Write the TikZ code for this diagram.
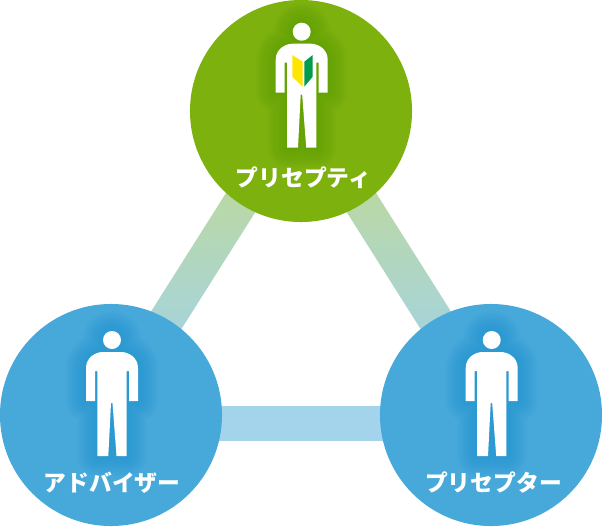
\documentclass[tikz,border=0pt]{standalone}
\usepackage{fontspec}
\setmainfont{Noto Sans CJK JP}
\usepackage{tikz}
\usetikzlibrary{calc,positioning}
\definecolor{leafgreen}{HTML}{7DB10E}
\definecolor{leafglow}{HTML}{4A9600}
\definecolor{skyblue}{HTML}{47A8DA}
\definecolor{skyglow}{HTML}{0A8CD2}
\definecolor{barblue}{HTML}{A3D4EB}
\definecolor{bartop}{HTML}{BDD99D}
\definecolor{barbottom}{HTML}{A4D3E2}
\definecolor{markyellow}{HTML}{FFE600}
\definecolor{markgreen}{HTML}{009B4C}
\newcommand{\barhalf}{0.4375cm}
\newcommand{\personshape}{
    (0,0) circle (9)
    (-26,61) -- (-26,28) .. controls (-26,17) and (-16,12) .. (-9,12)
    -- (9,12) .. controls (16,12) and (26,17) .. (26,28)
    -- (26,61) -- (17,61) -- (17,31) -- (14.7,31) -- (14.7,116) -- (4.5,116)
    -- (0.5,63) -- (-1,63) -- (-3.7,116) -- (-14.7,116) -- (-14.7,31)
    -- (-17,31) -- (-17,61) -- cycle
}
\tikzset{
    x=0.025cm,y=-0.025cm,
    role/.style ={circle, minimum size = 5.55cm, inner sep=0pt},
    rolename/.style ={text=white, font=\fontsize{16.2}{18}\selectfont\bfseries, inner sep=0pt},
    person/.pic = {
        \foreach \w in {4,8,...,40}
            \draw[glowcol, opacity=0.05, line width=\w*0.709pt, line join=round] \personshape;
        \fill[white] \personshape;
    }
}

\begin{document}
\begin{tikzpicture}
    \useasboundingbox (0,0) rectangle (602,526);

    %%Coordinates
    \coordinate (barTopL) at (254.9,180);
    \coordinate (barLowL) at (150.6,345);
    \coordinate (barTopR) at (347.1,180);
    \coordinate (barLowR) at (451.4,345);
    \coordinate (barBaseL) at (180,423.5);
    \coordinate (barBaseR) at (420,423.5);

    % Bars
    \foreach \a/\b in {barTopL/barLowL,barTopR/barLowR}
        \shade[top color=bartop, bottom color=barbottom]
            ($(\a)!\barhalf!90:(\b)$) -- ($(\a)!\barhalf!-90:(\b)$)
            -- ($(\b)!\barhalf!90:(\a)$) -- ($(\b)!\barhalf!-90:(\a)$) -- cycle;
    \draw[barblue, line width=0.875cm] (barBaseL) -- (barBaseR);

    %%Nodes
    \node[role, fill=leafgreen] (preceptee) at (301,111) {};
    \node[role, fill=skyblue] (adviser) at (111,415) {};
    \node[role, fill=skyblue] (preceptor) at (491,415) {};

    % People
    \colorlet{glowcol}{leafglow}
    \pic (p1) at (301.7,31.7) {person};
    \colorlet{glowcol}{skyglow}
    \pic (p2) at (112,340) {person};
    \pic (p3) at (491.7,340) {person};

    % Beginner mark
    \fill[markyellow] (292.3,55) -- (302.7,61.7) -- (302.7,86.7) -- (292.3,76.7) -- cycle;
    \fill[markgreen] (304.3,61.7) -- (312.7,55) -- (312.7,76.7) -- (304.3,86.7) -- cycle;

    %%Labels
    \node[rolename] (l1) at (303.5,178) {プリセプティ};
    \node[rolename] (l2) at (112,483) {アドバイザー};
    \node[rolename] (l3) at (493.5,483) {プリセプター};
\end{tikzpicture}
\end{document}
